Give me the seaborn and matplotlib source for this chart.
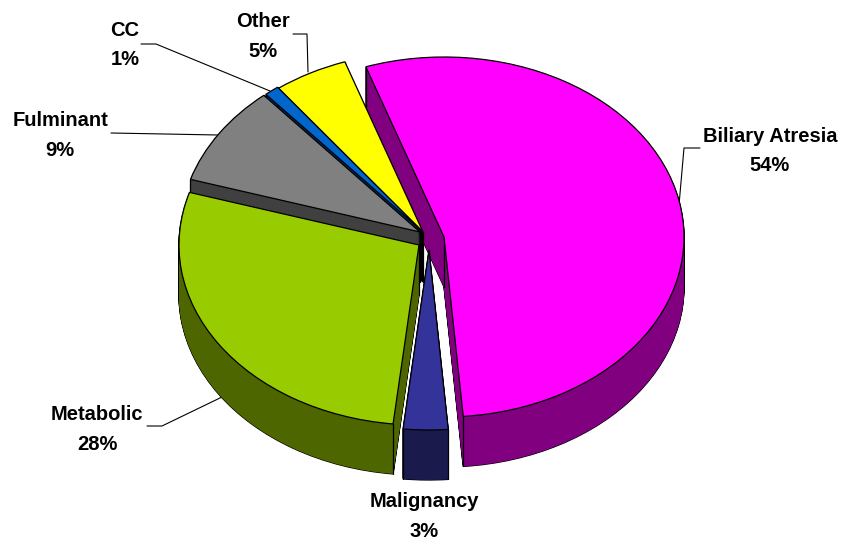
import matplotlib
matplotlib.use('Agg')
import matplotlib.pyplot as plt
from matplotlib.patches import Wedge
import numpy as np
import seaborn as sns

# Slice data, clockwise from the top left
categories = ['Biliary Atresia', 'Malignancy', 'Metabolic', 'Fulminant', 'CC', 'Other']
shares = [54, 3, 28, 9, 1, 5]
top_colors = ['#FF00FF', '#333399', '#99CC00', '#808080', '#0066CC', '#FFFF00']
side_colors = ['#800080', '#1A1A4D', '#4D6600', '#404040', '#003366', '#808000']

W, H = 842, 541
RX, RY = 240, 180   # pie radius in pixels
DEPTH = 50          # pie thickness in pixels
X0, Y0 = 421, 231

sns.set_theme(style='white')
plt.rcParams['font.family'] = ['Liberation Sans', 'DejaVu Sans']


# Convert picture pixels to data units, where the pie radius is 1
def px(x, y):
    return (x - X0) / RX, (Y0 - y) / RY


# Tip of every slice in picture pixels
tips = [(444, 237), (429, 250), (419, 245), (420, 232), (422, 231), (423, 232)]
# Painter's order, back slices first
draw_order = [0, 5, 4, 3, 2, 1]

fig = plt.figure(figsize=(W / 100, H / 100), dpi=100)
ax = fig.add_axes([0, 0, 1, 1])
wedges, _ = ax.pie(shares, startangle=109, counterclock=False, colors=top_colors,
                   wedgeprops={'edgecolor': 'black', 'linewidth': 0.9})
ax.set_aspect('auto')
ax.set_xlim(px(0, 0)[0], px(W, 0)[0])
ax.set_ylim(px(0, H)[1], px(0, 0)[1])
ax.axis('off')

step = 1 / RY
for rank, i in enumerate(draw_order):
    w = wedges[i]
    cx, cy = px(*tips[i])
    z = 10 + rank * 10
    w.set_center((cx, cy))
    w.set_zorder(z + 3)
    offsets = np.arange(DEPTH, 0, -1) * step
    # black outline first, then the filled layers on top of it
    for d in offsets:
        ax.add_patch(Wedge((cx, cy - d), 1, w.theta1, w.theta2, facecolor='black',
                           edgecolor='black', linewidth=0.9, zorder=z))
    for d in offsets:
        ax.add_patch(Wedge((cx, cy - d), 1, w.theta1, w.theta2, facecolor=side_colors[i],
                           edgecolor='none', zorder=z + 1))
    # vertical corners of the side walls
    for a in (w.theta1, w.theta2):
        t = np.deg2rad(a)
        ex, ey = cx + np.cos(t), cy + np.sin(t)
        ax.plot([ex, ex], [ey, ey - DEPTH * step], color='black', lw=0.9, zorder=z + 2)
    ax.plot([cx, cx], [cy, cy - DEPTH * step], color='black', lw=0.9, zorder=z + 2)

# Labels
label_pos = {
    'Biliary Atresia': (770, 151), 'Malignancy': (424, 516.5), 'Metabolic': (97, 429.5),
    'Fulminant': (60, 135.5), 'CC': (125, 45), 'Other': (263, 36.5),
}
for name, share in zip(categories, shares):
    lx, ly = px(*label_pos[name])
    ax.text(lx, ly, f'{name}\n{share}%', ha='center', va='center', fontsize=14.5,
            fontweight='bold', color='black', linespacing=1.68, zorder=100)

# Leader lines
leaders = [
    [(700, 148), (684, 148), (679, 205)],
    [(147, 426), (162, 426), (222, 397)],
    [(111, 133), (218, 135)],
    [(141, 44), (156, 44), (270, 91)],
    [(293, 34), (307, 34), (308, 72)],
]
for line in leaders:
    pts = np.array([px(*p) for p in line])
    ax.plot(pts[:, 0], pts[:, 1], color='black', lw=0.8, zorder=5)

fig.savefig('out.png', dpi=100)
